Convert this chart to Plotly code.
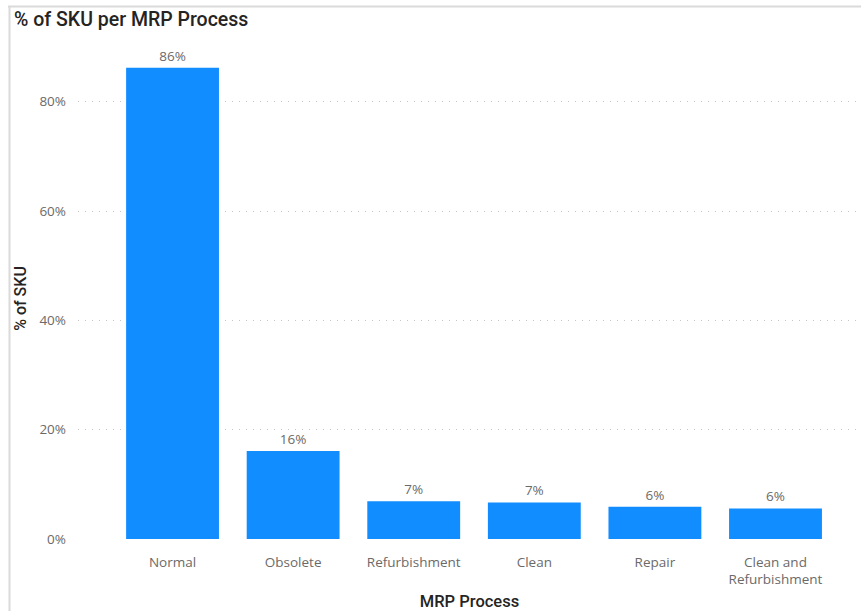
import plotly.graph_objects as go

# Share of SKUs in each MRP process
processes = ["Normal", "Obsolete", "Refurbishment", "Clean", "Repair", "Clean and<br>Refurbishment"]
share_pct = [86.2, 16.1, 6.9, 6.7, 5.9, 5.6]
y_ticks = [0, 20, 40, 60, 80]
y_tick_labels = ["0%", "20%", "40%", "60%", "80%"]

BAR = "#118DFF"
GRID = "#C8C6C4"
TICK = "#6B6A69"
DARK = "#252423"

W, H = 861, 611
ML, MR, MT, MB = 78, 0, 58, 72

fig = go.Figure(
    go.Bar(
        x=processes,
        y=share_pct,
        marker=dict(color=BAR, line=dict(width=0)),
        text=share_pct,
        texttemplate="%{y:.0f}%",
        textposition="outside",
        textfont=dict(family="Open Sans", size=13.5, color=TICK),
        cliponaxis=False,
        hoverinfo="skip",
    )
)

pw = W - ML - MR
ph = H - MT - MB


def px_x(p):
    return (p - ML) / pw


def px_y(p):
    return (H - MB - p) / ph


fig.update_layout(
    width=W,
    height=H,
    margin=dict(l=ML, r=MR, t=MT, b=MB, autoexpand=False),
    paper_bgcolor="white",
    plot_bgcolor="white",
    bargap=0.23,
    showlegend=False,
    title=dict(
        text="% of SKU per MRP Process",
        x=14 / W,
        xref="container",
        xanchor="left",
        y=1 - 19 / H,
        yref="container",
        yanchor="middle",
        font=dict(family="Roboto", size=19.5, color=DARK, weight=500),
    ),
    xaxis=dict(
        range=[-0.784, 5.709],
        showgrid=False,
        showline=False,
        zeroline=False,
        ticks="",
        tickfont=dict(family="Open Sans", size=13.5, color=TICK),
        ticklabelstandoff=13,
        title=dict(
            text="MRP Process",
            font=dict(family="Roboto", size=16.5, color=DARK, weight=500),
            standoff=10,
        ),
        automargin=False,
    ),
    yaxis=dict(
        range=[0, 88],
        tickvals=y_ticks,
        ticktext=y_tick_labels,
        showgrid=True,
        gridcolor=GRID,
        griddash="1px,6px",
        gridwidth=1,
        zeroline=False,
        showline=False,
        ticks="",
        tickfont=dict(family="Open Sans", size=13.5, color=TICK),
        ticklabelstandoff=11,
        title=dict(
            text="% of SKU",
            font=dict(family="Roboto", size=16, color=DARK, weight=500),
            standoff=8,
        ),
        automargin=False,
    ),
    shapes=[
        # visual frame: top and left edges
        dict(type="line", xref="paper", yref="paper",
             x0=px_x(8), x1=px_x(W + 5), y0=px_y(6.5), y1=px_y(6.5),
             line=dict(color="#DADADA", width=2)),
        dict(type="line", xref="paper", yref="paper",
             x0=px_x(9.5), x1=px_x(9.5), y0=px_y(6), y1=px_y(H + 5),
             line=dict(color="#DADADA", width=2)),
    ],
)

fig.write_html("out.html")
